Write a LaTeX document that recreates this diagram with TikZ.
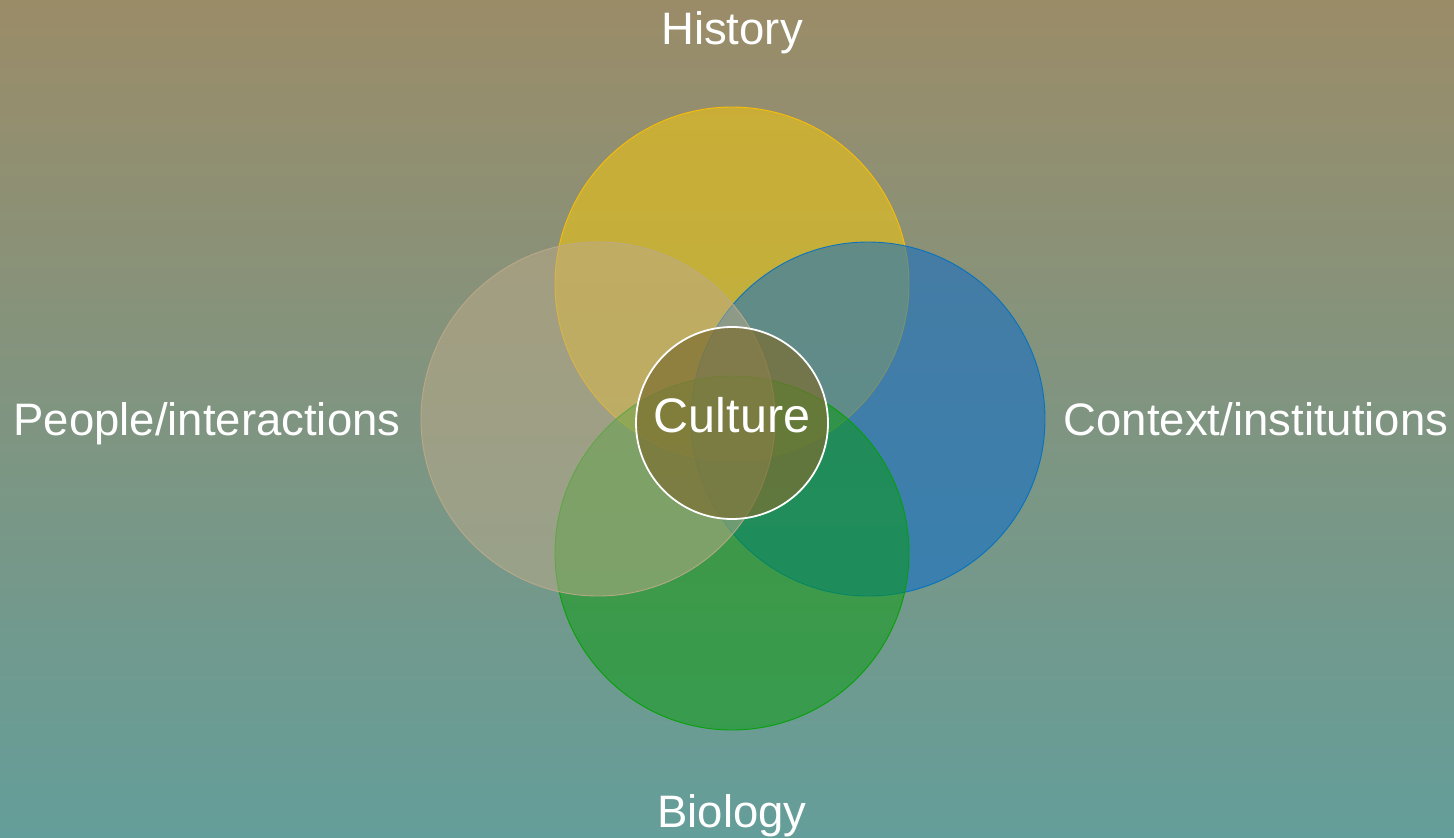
\documentclass[tikz,border=0pt]{standalone}
\usepackage{fontspec}
\setmainfont{Liberation Sans}
\definecolor{bgtop}{RGB}{155,140,104}
\definecolor{bgbot}{RGB}{100,158,154}
\definecolor{histc}{RGB}{255,205,0}
\definecolor{histl}{RGB}{255,192,0}
\definecolor{ctxc}{RGB}{0,104,210}
\definecolor{ctxl}{RGB}{0,112,192}
\definecolor{bioc}{RGB}{5,155,10}
\definecolor{biol}{RGB}{0,160,0}
\definecolor{pplc}{RGB}{189,170,137}
\definecolor{cultc}{RGB}{124,110,50}
\tikzset{
  venn/.style={circle, minimum size=354pt, inner sep=0pt, line width=0.9pt},
  lbl/.style={text=white, font=\fontsize{45.5}{50}\selectfont, inner sep=0pt, anchor=base},
}
\begin{document}
\begin{tikzpicture}[x=1pt,y=-1pt]
\useasboundingbox (0,0) rectangle (1454,838);
\shade[top color=bgtop, bottom color=bgbot] (0,0) rectangle (1454,838);
\node[venn, fill=histc, fill opacity=0.5, draw=histl, draw opacity=0.9] (hist) at (732,284) {};
\node[venn, fill=ctxc, fill opacity=0.5, draw=ctxl, draw opacity=0.9] (ctx) at (868,419) {};
\node[venn, fill=bioc, fill opacity=0.5, draw=biol, draw opacity=0.9] (bio) at (732,553) {};
\node[venn, fill=pplc, fill opacity=0.5, draw=pplc, draw opacity=0.9] (ppl) at (598,419) {};
\node[circle, minimum size=192pt, inner sep=0pt, fill=cultc, fill opacity=0.7, draw=white, draw opacity=1, line width=1.8pt] (cult) at (732,423) {};
\node[lbl, font=\fontsize{48.5}{52}\selectfont] (lcult) at (732,432) {Culture};
\node[lbl] (lhist) at (732,44) {History};
\node[lbl] (lbio) at (732,827) {Biology};
\node[lbl] (lppl) at (207,435) {People/interactions};
\node[lbl] (lctx) at (1256,435) {Context/institutions};
\end{tikzpicture}
\end{document}
